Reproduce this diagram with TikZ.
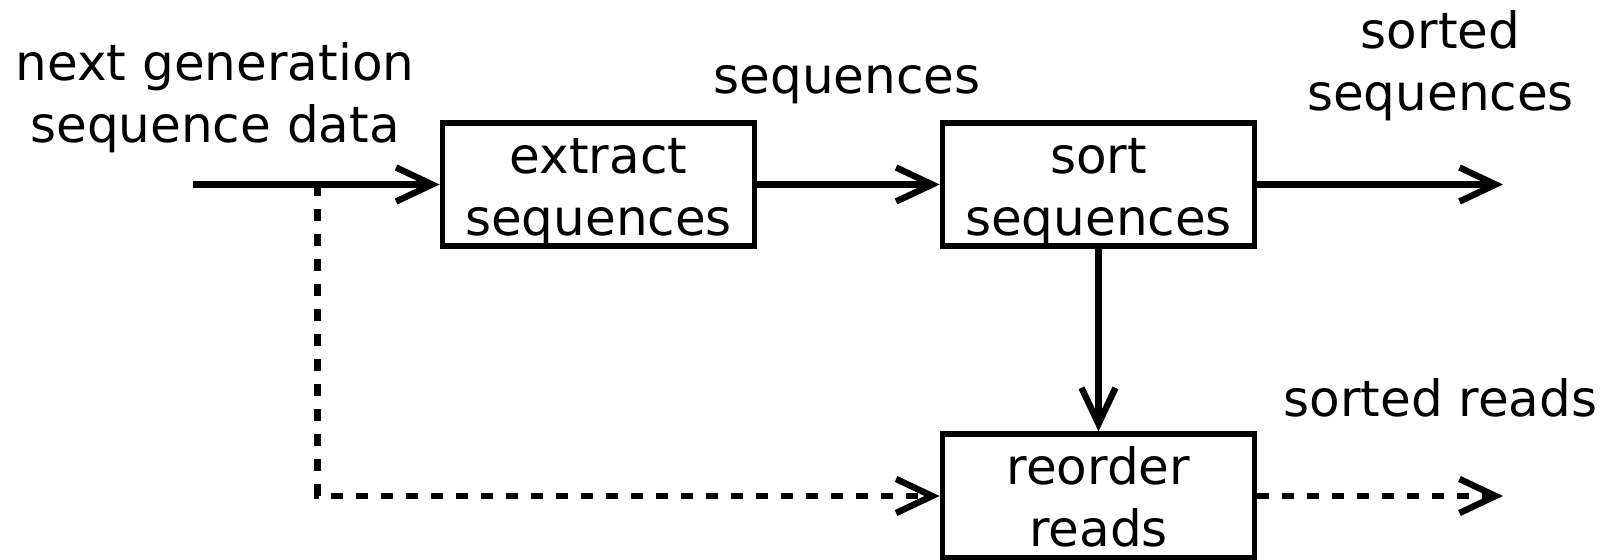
\documentclass[tikz,border=0pt]{standalone}
\usepackage{fontspec}
\setmainfont{DejaVu Sans}
\usetikzlibrary{arrows.meta}
% first-line height and last-line depth shared by every stage label
\newcommand{\toprule}{\rule{0pt}{25pt}}
\newcommand{\botrule}{\rule[-5.2pt]{0pt}{5.2pt}}
\begin{document}
\begin{tikzpicture}[x=0.5pt,y=-0.5pt,
  every node/.style={font=\fontsize{25pt}{31pt}\selectfont, inner sep=0pt, align=center},
  stage/.style={draw, line width=2.9pt, minimum width=156pt, minimum height=61.75pt},
  flow/.style={line width=3.2pt, -{Straight Barb[length=18pt, width=17pt]}},
  aside/.style={flow, dash pattern=on 6pt off 6.5pt},
  caption/.style={anchor=base}]
  \useasboundingbox (0,0) rectangle (1618,560);

  % processing stages
  \node[stage] (extract) at (598.5,184.5) {\toprule extract\\sequences\botrule};
  \node[stage] (sort)    at (1098.5,184.5) {\toprule sort\\sequences\botrule};
  \node[stage] (reorder) at (1098.5,496) {\toprule reorder\\reads\botrule};

  % free ends of the connectors
  \coordinate (in)     at (193,184.5);
  \coordinate (branch) at (317.5,184.5);
  \coordinate (outseq) at (1503,184.5);
  \coordinate (outrd)  at (1503,496);

  % texts (base anchor sits on the last line)
  \node[caption] (inlabel)  at (215,142.5)   {next generation\\sequence data};
  \node[caption] (seqlabel) at (847,94)      {sequences};
  \node[caption] (sslabel)  at (1440.5,110.5) {sorted\\sequences};
  \node[caption] (srlabel)  at (1440.5,417)  {sorted reads};

  % connectors
  \draw[aside] (branch) |- (reorder.west);
  \draw[flow] (in) -- (extract.west);
  \draw[flow] (extract) -- (sort);
  \draw[flow] (sort) -- (outseq);
  \draw[flow] (sort) -- (reorder);
  \draw[aside] (reorder) -- (outrd);
\end{tikzpicture}
\end{document}
